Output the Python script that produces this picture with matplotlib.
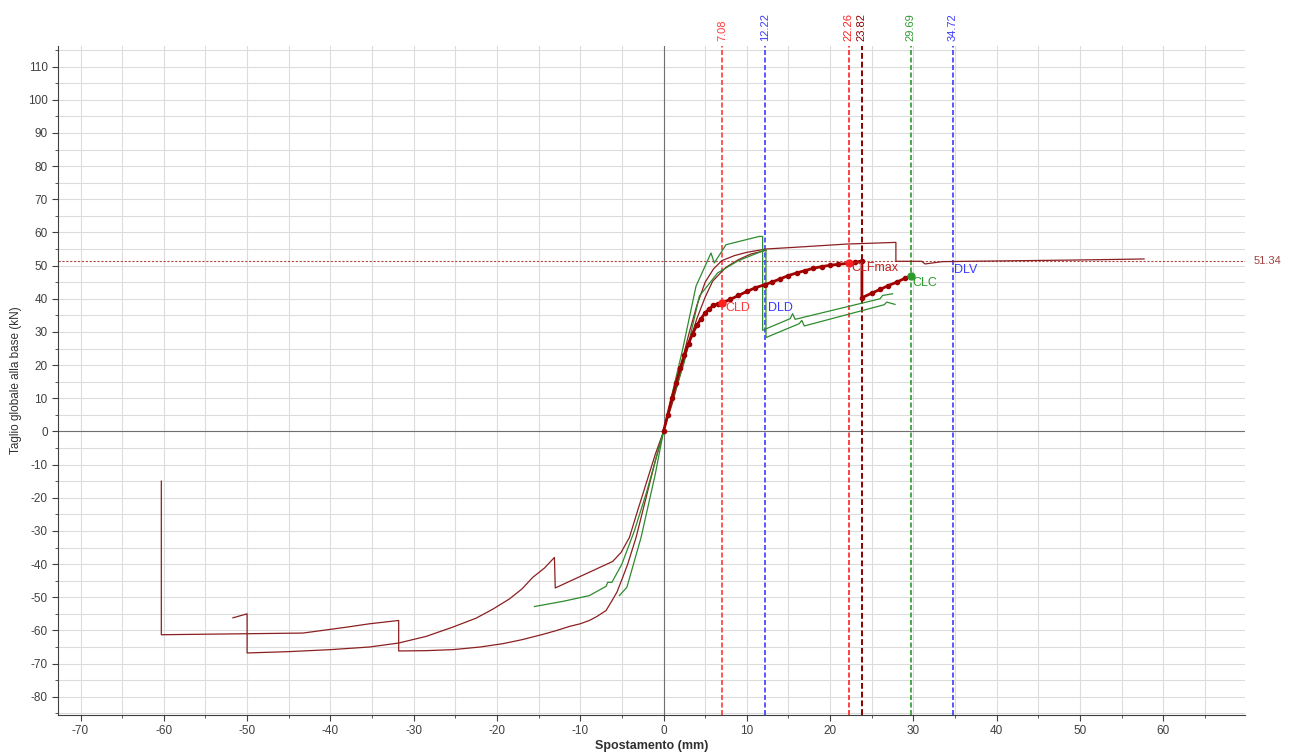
"""
Curva di capacita' (pushover) - taglio alla base vs spostamento
"""
import matplotlib
matplotlib.use("Agg")
import matplotlib.pyplot as plt

plt.rcParams['font.family'] = ['Liberation Sans Narrow', 'Liberation Sans', 'DejaVu Sans']
plt.rcParams['axes.unicode_minus'] = False  # trattino semplice come nel software

# curva bilineare principale (spessa, con punti)
main_x = [0, 0.5, 1, 1.5, 2, 2.5, 3, 3.5, 4, 4.5, 5, 5.5, 6, 6.5, 7.08, 8, 9, 10, 11, 12.22,
          13, 14, 15, 16, 17, 18, 19, 20, 21, 22.26, 23, 23.82, 23.82, 25, 26, 27, 28, 29, 29.69]
main_y = [0, 5, 10, 14.5, 19, 23, 26.5, 29.5, 32, 34, 35.7, 37, 38, 38.5, 38.8, 39.8, 41, 42.2, 43.3, 44.3,
          45, 46, 47, 47.8, 48.5, 49.2, 49.7, 50.1, 50.4, 50.7, 51, 51.4, 40.3, 41.7, 42.8, 44, 45, 46.2, 46.9]

# curve sottili marroni (direzione positiva)
brown1_x = [0, 1, 2, 3, 4, 5, 6, 7, 8.5, 10, 12.3, 16.3, 22, 27.9, 27.9, 31, 31.4, 33.5, 40, 50, 57.7]
brown1_y = [0, 9, 19, 29, 38, 45, 49, 51.5, 53, 54, 55, 55.6, 56.5, 57, 51.3, 51.3, 50.5, 51.2, 51.4, 51.7, 52]
brown2_x = [0, 1, 2, 3, 4, 5, 5.9, 7.5, 9, 10.5, 12.3]
brown2_y = [0, 8, 17, 26, 34, 40.5, 45.3, 49.5, 51.8, 53.5, 54.6]

# curve sottili marroni (direzione negativa)
neg1_x = [0, -1, -2, -3, -4.1, -5.1, -6.1, -13, -13.1, -14.3, -15.7, -17, -18.5, -20.5, -22.5, -25.3,
          -28.5, -31.8, -35.3, -40, -45, -50, -50, -51.7]
neg1_y = [0, -7, -15, -23, -32, -36.5, -39.2, -47.2, -38, -41.2, -44, -47.5, -50.5, -53.6, -56.3, -59,
          -61.8, -63.8, -65, -65.8, -66.4, -66.8, -55, -56.2]
neg2_x = [0, -1, -2, -3.3, -4.3, -4.9, -5.6, -6.3, -6.9, -8, -8.9, -10, -11.3, -12.8, -14.5, -17, -19.3,
          -22, -25.3, -28.5, -31.8, -31.8, -35.3, -38, -43.3, -50, -60.3, -60.3]
neg2_y = [0, -9, -19, -32, -40, -44, -48.5, -51.5, -54, -55.8, -57, -58, -58.8, -60, -61.2, -62.8, -64,
          -65, -65.8, -66.1, -66.2, -57, -58, -59, -60.8, -61, -61.3, -15]

# curve verdi
green1_x = [0, 1, 2.3, 3.9, 5.7, 6.1, 7.5, 11.5, 11.9, 11.9, 15.2, 15.5, 15.8, 26, 26.3, 27.5]
green1_y = [0, 11, 24.8, 43.8, 53.8, 50.8, 56.3, 58.8, 58.8, 30.5, 34, 35.5, 33.8, 40, 41, 41.5]
green2_x = [0, 1, 2.5, 4.3, 6.5, 9, 12.3, 12.3, 16.3, 16.6, 16.9, 26.5, 26.8, 27.8]
green2_y = [0, 9, 21, 40.8, 47.8, 51.5, 54.8, 28.3, 32.5, 33.5, 31.8, 38.2, 39, 38.3]
green3_x = [0, -1, -2.7, -4.4, -5.3]
green3_y = [0, -13, -32, -47, -49.5]
green4_x = [0, -1, -2, -3.5, -5, -6.2, -6.7, -6.9, -8.9, -12, -15.5]
green4_y = [0, -9, -18, -30, -40, -45.5, -45.5, -46.7, -49.5, -51.2, -52.8]

# linee verticali limite
limit_vals = [7.08, 12.22, 22.26, 23.82, 29.69, 34.72]
limit_colors = ['#ff3b3b', '#3b3bff', '#ff2020', '#8b0000', '#2e9a2e', '#3b3bff']
limit_labels = ['7.08', '12.22', '22.26', '23.82', '29.69', '34.72']

# etichette dei punti
point_names = ['CLD', 'DLD', 'CLFmax', 'CLC', 'DLV']
point_x = [7.4, 12.6, 22.5, 29.9, 34.9]
point_y = [37.1, 37.1, 49.3, 44.9, 48.8]
point_colors = ['#ff3b3b', '#3b3bff', '#c02020', '#2e9a2e', '#3b3bff']

h_val = 51.34

fig = plt.figure(figsize=(12.9, 7.55), dpi=100)
ax = fig.add_axes([0.045, 0.053, 0.92, 0.886])

ax.set_xlim(-72.7, 69.8)
ax.set_ylim(-85.5, 116.2)

# griglia ogni 5
ax.set_xticks(range(-70, 61, 10))
ax.set_xticks(range(-70, 70, 5), minor=True)
ax.set_yticks(range(-80, 111, 10))
ax.set_yticks(range(-85, 116, 5), minor=True)
ax.grid(True, which='both', color='#dcdcdc', lw=0.8)
ax.set_axisbelow(True)

ax.axhline(0, color='#707070', lw=0.8)
ax.axvline(0, color='#707070', lw=0.8)
ax.axhline(h_val, color='#b04848', lw=0.8, ls=(0, (2, 1.5)))
ax.text(69.8 + 1.0, h_val, f"{h_val:.2f}", color='#a04040', fontsize=8, va='center', ha='left')

for v, c, lab in zip(limit_vals, limit_colors, limit_labels):
    ax.axvline(v, color=c, lw=1.2 if v != 23.82 else 1.4, ls=(0, (3, 1.5)))
    ax.text(v, 116.2 + 1.5, lab, color=c, rotation=90, fontsize=8, ha='center', va='bottom')

# curve sottili
ax.plot(brown1_x, brown1_y, color='#8b2020', lw=0.9)
ax.plot(brown2_x, brown2_y, color='#8b2020', lw=0.9)
ax.plot(neg1_x, neg1_y, color='#8b2020', lw=0.9)
ax.plot(neg2_x, neg2_y, color='#8b2020', lw=0.9)
ax.plot(green1_x, green1_y, color='#2e8b2e', lw=0.9)
ax.plot(green2_x, green2_y, color='#2e8b2e', lw=0.9)
ax.plot(green3_x, green3_y, color='#2e8b2e', lw=0.9)
ax.plot(green4_x, green4_y, color='#2e8b2e', lw=0.9)

# curva principale
ax.plot(main_x, main_y, color='#a00000', lw=2, marker='o', ms=3)
ax.plot([7.08], [38.8], 'o', color='#ff2020', ms=5)
ax.plot([22.26], [50.7], 'o', color='#ff2020', ms=5)
ax.plot([29.69], [46.9], 'o', color='#2e9a2e', ms=5)

for name, px, py, c in zip(point_names, point_x, point_y, point_colors):
    ax.text(px, py, name, color=c, fontsize=9, ha='left', va='center')

ax.spines['top'].set_visible(False)
ax.spines['right'].set_visible(False)
ax.spines['left'].set_color('#404040')
ax.spines['bottom'].set_color('#404040')
ax.tick_params(axis='both', which='major', labelsize=8.5, colors='#404040', length=4)
ax.tick_params(axis='both', which='minor', length=2, colors='#404040')

ax.set_xlabel('Spostamento (mm)', fontsize=9, fontweight='bold', color='#303030', labelpad=2)
ax.set_ylabel('Taglio globale alla base (kN)', fontsize=8.5, color='#303030', labelpad=4)

fig.savefig('out.png', dpi=100)
